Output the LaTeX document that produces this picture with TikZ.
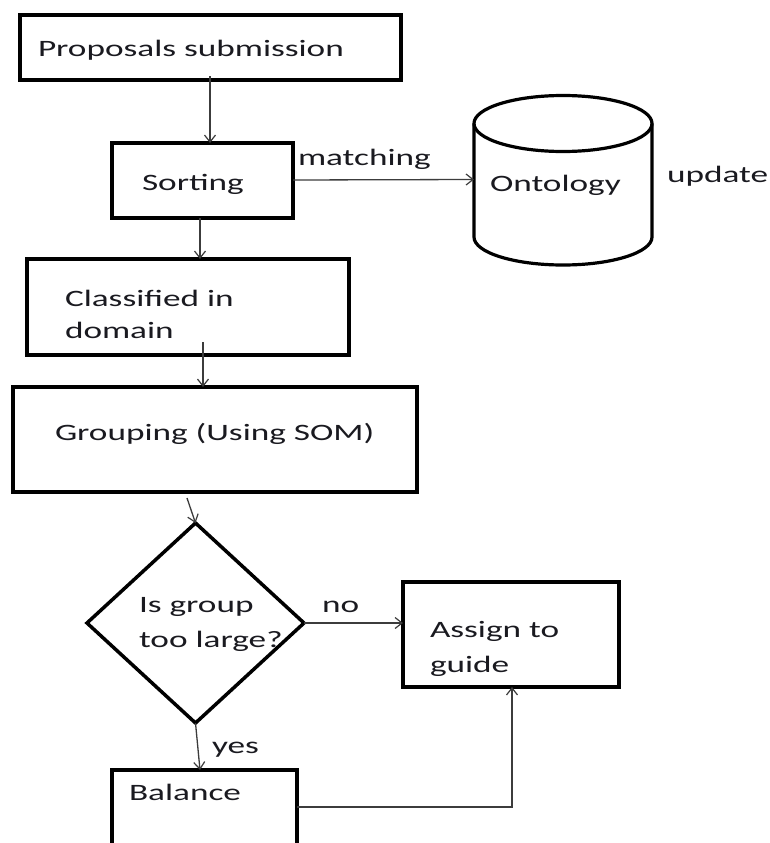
\documentclass[tikz,border=0pt]{standalone}
\usepackage{fontspec}
\setmainfont{Carlito}[FakeStretch=1.5]
\usetikzlibrary{arrows.meta,shapes.geometric,calc}
\definecolor{txt}{HTML}{1A1A20}
\definecolor{conn}{HTML}{3C3C3C}
\tikzset{
  box/.style={draw=black, line width=3.5pt, rectangle, inner sep=0pt, outer sep=0pt},
  lbl/.style={anchor=base west, inner sep=0pt, outer sep=0pt, text=txt, font=\fontsize{23.5}{28}\selectfont},
  arr/.style={draw=conn, line width=1.3pt, -{Straight Barb[length=7pt,width=11pt,line width=1.2pt]}},
  ln/.style={draw=conn, line width=1.3pt},
}
\begin{document}
\begin{tikzpicture}[x=1pt,y=-1pt]
\useasboundingbox (0,0) rectangle (770,843);
\fill[white] (0,0) rectangle (770,843);
\clip (0,0) rectangle (770,843);
% boxes
\node[box, minimum width=381pt, minimum height=65pt] (prop) at (210.5,47.5) {};
\node[box, minimum width=181pt, minimum height=75pt] (sort) at (202.5,180.5) {};
\node[box, minimum width=322pt, minimum height=96pt] (class) at (188,307) {};
\node[box, minimum width=404pt, minimum height=105pt] (group) at (215,439.5) {};
\node[box, diamond, minimum width=217pt, minimum height=200pt] (dia) at (195.5,623) {};
\node[box, minimum width=216pt, minimum height=105pt] (assign) at (511,634.5) {};
\node[box, minimum width=185pt, minimum height=90pt] (bal) at (204.5,815) {};
% cylinder
\draw[line width=3.2pt] (474,123.5) -- (474,237) arc[start angle=180, end angle=0, x radius=89, y radius=28] -- (652,123.5);
\draw[line width=3.2pt] (563,123.5) ellipse [x radius=89, y radius=28];
\node[inner sep=0pt, outer sep=0pt, minimum width=178pt, minimum height=170pt] (onto) at (563,180) {};
% texts
\node[lbl] (tprop) at (38,57) {Proposals submission};
\node[lbl] (tsort) at (142,190) {Sorting};
\node[lbl] (tmatch) at (298,165) {matching};
\node[lbl] (tonto) at (490,191) {Ontology};
\node[lbl] (tupd) at (667,182) {update};
\node[lbl] (tclass1) at (65,306) {Classified in};
\node[lbl] (tclass2) at (65,338) {domain};
\node[lbl] (tgroup) at (55,440) {Grouping (Using SOM)};
\node[lbl] (tdia1) at (139,612) {Is group};
\node[lbl] (tdia2) at (139,647) {too large?};
\node[lbl] (tno) at (322,612) {no};
\node[lbl] (tass1) at (430,637) {Assign to};
\node[lbl] (tass2) at (430,672) {guide};
\node[lbl] (tyes) at (212,753) {yes};
\node[lbl] (tbal) at (129,800) {Balance};
% connectors
\draw[arr] ([shift={(-0.5,-4)}]prop.south) -- ([xshift=7.5pt]sort.north);
\draw[arr] ([yshift=0.5pt]sort.east) -- ([yshift=0.5pt]onto.west);
\draw[arr] ([xshift=-2.5pt]sort.south) -- ([xshift=12pt]class.north);
\draw[arr] ([shift={(15,-13)}]class.south) -- ([xshift=-12pt]group.north);
\draw[arr] ([shift={(-28,6)}]group.south) -- (dia.north);
\draw[arr] (dia.east) -- (dia.east -| assign.west);
\draw[arr] (dia.south) -- ([xshift=-4.5pt]bal.north);
\draw[arr] ([yshift=8pt]bal.east) -| ([xshift=1pt]assign.south);
\end{tikzpicture}
\end{document}
